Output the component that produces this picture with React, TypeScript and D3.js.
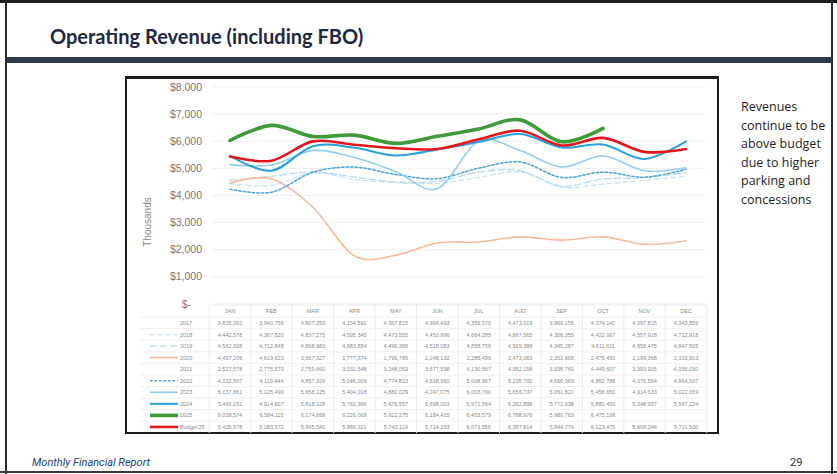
import React from 'react';
import * as d3 from 'd3';

const months = ['JAN', 'FEB', 'MAR', 'APR', 'MAY', 'JUN', 'JUL', 'AUG', 'SEP', 'OCT', 'NOV', 'DEC'];

const rev2017 = [3835262, 3940756, 4807253, 4154591, 4367815, 4364493, 4359570, 4473019, 3969156, 4374142, 4097815, 4343859];
const rev2018 = [4442578, 4367520, 4837275, 4595345, 4473555, 4450996, 4664285, 4867565, 4306355, 4422067, 4557918, 4712918];
const rev2019 = [4562328, 4712848, 4868983, 4683854, 4496366, 4518083, 4858756, 4919388, 4345287, 4611611, 4658475, 4847505];
const rev2020 = [4457206, 4619620, 3567327, 1777374, 1796785, 2248132, 2285496, 2473083, 2353668, 2475450, 2199368, 2333503];
const rev2021 = [2527578, 2775579, 2759660, 3031548, 3248059, 3677598, 4130567, 4952158, 3938760, 4449607, 3993905, 4056030];
const rev2022 = [4232507, 4119444, 4857324, 5046009, 4774813, 4618960, 5008957, 5235700, 4666069, 4862788, 4676564, 4964537];
const rev2023 = [5137861, 5125490, 5658125, 5404018, 4882029, 4247075, 6003760, 5656737, 5051821, 5458650, 4914633, 5022659];
const rev2024 = [5465151, 4914607, 5818128, 5761366, 5476557, 5698003, 5972564, 6262898, 5772638, 5880450, 5348957, 5997224];
const rev2025 = [6028574, 6584115, 6174868, 6226068, 5922275, 6184415, 6453579, 6788976, 5980763, 6475198, null, null];
const budget25 = [5435578, 5283572, 5995540, 5869321, 5743119, 5714233, 6073556, 6387814, 5844774, 6123475, 5608344, 5711500];

const yTicks = [0, 1000, 2000, 3000, 4000, 5000, 6000, 7000, 8000];

const noteLines = ['Revenues', 'continue to be', 'above budget', 'due to higher', 'parking and', 'concessions'];

type Series = { name: string; values: (number | null)[]; color: string | null; width: number; dash?: string };

const series: Series[] = [
  { name: '2017', values: rev2017, color: null, width: 0 },
  { name: '2018', values: rev2018, color: '#c9e3f3', width: 1.3, dash: '5,3' },
  { name: '2019', values: rev2019, color: '#b7d9ef', width: 1.3, dash: '7,3' },
  { name: '2020', values: rev2020, color: '#f5b99c', width: 1.6 },
  { name: '2021', values: rev2021, color: null, width: 0 },
  { name: '2022', values: rev2022, color: '#4ea2d8', width: 1.5, dash: '2.5,2' },
  { name: '2023', values: rev2023, color: '#92cdef', width: 1.6 },
  { name: '2024', values: rev2024, color: '#27a0db', width: 2 },
  { name: '2025', values: rev2025, color: '#3e9b37', width: 3.6 },
  { name: "Budget'25", values: budget25, color: '#e4161d', width: 2.6 },
];

const W = 837;
const H = 474;

export default function App() {
  const x = d3.scalePoint<string>().domain(months).range([230, 686]);
  const step = x.step();
  const y = d3.scaleLinear().domain([0, 8000]).range([304, 87]);

  const line = d3
    .line<[string, number | null]>()
    .defined(d => d[1] != null)
    .x(d => x(d[0]) as number)
    .y(d => y((d[1] as number) / 1000))
    .curve(d3.curveCardinal.tension(0));

  const fmt = d3.format(',');
  const tableTop = 305;
  const headerY = 311;
  const row0 = 323;
  const rowH = 11.55;
  const tableLeft = 140;
  const colLeft = (x(months[0]) as number) - step / 2;
  const colRight = (x(months[11]) as number) + step / 2;
  const tableBottom = row0 + rowH * (series.length - 1) + 6;

  return (
    <svg width={W} height={H} style={{ position: 'absolute', left: 0, top: 0, background: '#fff' }}>
      {/* slide frame */}
      <rect x={0} y={0} width={W} height={H} fill="#fff" />
      <line x1={0} x2={W} y1={1.5} y2={1.5} stroke="#1e1e1e" strokeWidth={3} />
      <line x1={6} x2={6} y1={0} y2={H} stroke="#2a2a2a" strokeWidth={2} />
      <line x1={832} x2={832} y1={0} y2={H} stroke="#2a2a2a" strokeWidth={2} />
      <line x1={0} x2={W} y1={472} y2={472} stroke="#3a3a3a" strokeWidth={2} />

      {/* title */}
      <text x={50} y={44} fontFamily="Lato, 'Open Sans', sans-serif" fontWeight={700} fontSize={20} fill="#1d2942">
        Operating Revenue (including FBO)
      </text>
      <rect x={7} y={57} width={825} height={6} fill="#2f3a4d" />

      {/* chart frame */}
      <rect x={126} y={77} width={592} height={356} fill="#fff" stroke="#1c1c1c" strokeWidth={2} />
      <line x1={126} x2={718} y1={77.5} y2={77.5} stroke="#1c1c1c" strokeWidth={3} />

      {/* gridlines */}
      {yTicks.map(t => (
        <line key={t} x1={212} x2={706} y1={y(t)} y2={y(t)} stroke="#efefef" strokeWidth={1} />
      ))}

      {/* y axis */}
      {yTicks.map(t => (
        <text
          key={t}
          x={t === 0 ? 191 : 202}
          y={y(t) + 3.5}
          textAnchor="end"
          fontFamily="'Liberation Sans', Arial, sans-serif"
          fontSize={10.5}
          fill="#777"
        >
          {t === 0 ? '$-' : '$' + fmt(t)}
        </text>
      ))}
      <text
        transform={`translate(151,222) rotate(-90)`}
        textAnchor="middle"
        fontFamily="'Liberation Sans', Arial, sans-serif"
        fontSize={10}
        fill="#888"
      >
        Thousands
      </text>

      {/* series lines */}
      {series
        .filter(s => s.color)
        .map(s => (
          <path
            key={s.name}
            d={line(months.map((m, i) => [m, s.values[i]] as [string, number | null])) || ''}
            fill="none"
            stroke={s.color as string}
            strokeWidth={s.width}
            strokeDasharray={s.dash}
            strokeLinecap="round"
            strokeLinejoin="round"
          />
        ))}

      {/* data table */}
      <g fontFamily="'Liberation Sans', Arial, sans-serif">
        {months.map((m, i) => (
          <line
            key={'v' + m}
            x1={colLeft + i * step}
            x2={colLeft + i * step}
            y1={tableTop}
            y2={tableBottom}
            stroke="#ececec"
          />
        ))}
        <line x1={colRight} x2={colRight} y1={tableTop} y2={tableBottom} stroke="#ececec" />
        <line x1={colLeft} x2={colRight} y1={tableTop} y2={tableTop} stroke="#ececec" />
        {series.map((s, r) => (
          <line
            key={'h' + s.name}
            x1={tableLeft}
            x2={colRight}
            y1={row0 - rowH / 2 + r * rowH}
            y2={row0 - rowH / 2 + r * rowH}
            stroke="#efefef"
          />
        ))}
        {months.map(m => (
          <text key={'m' + m} x={x(m)} y={headerY + 2} textAnchor="middle" fontSize={5.5} fill="#8a8a8a">
            {m}
          </text>
        ))}
        {series.map((s, r) => {
          const cy = row0 + r * rowH;
          return (
            <g key={'r' + s.name}>
              {s.color && (
                <line
                  x1={150}
                  x2={178}
                  y1={cy}
                  y2={cy}
                  stroke={s.color}
                  strokeWidth={s.width}
                  strokeDasharray={s.dash}
                />
              )}
              <text x={180} y={cy + 2} fontSize={5.5} fill="#8a8a8a">
                {s.name}
              </text>
              {s.values.map((v, i) =>
                v == null ? null : (
                  <text key={i} x={x(months[i])} y={cy + 2} textAnchor="middle" fontSize={5.5} fill="#8a8a8a">
                    {fmt(v)}
                  </text>
                )
              )}
            </g>
          );
        })}
      </g>

      {/* side note */}
      {noteLines.map((t, i) => (
        <text
          key={t}
          x={741}
          y={111 + i * 18.5}
          fontFamily="'Open Sans', 'Noto Sans', sans-serif"
          fontWeight={500}
          fontSize={12.5}
          fill="#1e1e1e"
        >
          {t}
        </text>
      ))}

      {/* footer */}
      <text
        x={32}
        y={466}
        fontFamily="'Liberation Sans Narrow', 'Roboto', sans-serif"
        fontStyle="italic"
        fontSize={11}
        fill="#22417a"
      >
        Monthly Financial Report
      </text>
      <text x={790} y={466} fontFamily="'Liberation Sans Narrow', 'Roboto', sans-serif" fontSize={11} fill="#22324f">
        29
      </text>
    </svg>
  );
}
